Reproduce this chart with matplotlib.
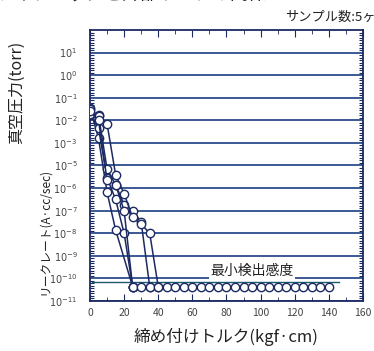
import matplotlib
matplotlib.use('Agg')
import matplotlib.pyplot as plt
from matplotlib.ticker import FixedLocator, MultipleLocator

plt.rcParams['font.family'] = ['Noto Sans CJK JP', 'DejaVu Sans']

# y values are decade exponents on the chart's stacked scale
# (torr: 10^1 .. 10^-3, leak rate: 10^-5 .. 10^-11)
BOTTOM = -10.37   # level of "not detected" points

s1_x = [0, 5, 10, 15, 25]
s1_y = [-1.45, -2.8, -6.18, -7.85, BOTTOM]
s2_x = [0, 5, 10, 15, 20, 25]
s2_y = [-1.75, -2.35, -5.55, -6.5, -8.0, BOTTOM]
s3_x = [0, 5, 10, 15, 20, 25, 30, 35]
s3_y = [-1.7, -1.77, -5.15, -5.85, -6.73, -7.0, -7.5, BOTTOM]
s4_x = [0, 5, 10, 15, 20, 25, 30, 35, 40]
s4_y = [-1.5, -1.8, -2.15, -5.4, -6.25, -7.3, -7.6, -8.0, BOTTOM]
s5_x = [0, 5, 10, 15, 20, 25]
s5_y = [-1.6, -2.0, -5.64, -5.85, -7.0, BOTTOM]
series = [(s1_x, s1_y), (s2_x, s2_y), (s3_x, s3_y), (s4_x, s4_y), (s5_x, s5_y)]

floor_x = list(range(25, 145, 5))
detect_level = -10.17
detect_x = [1, 146]

tick_exps = [1, 0, -1, -2, -3, -5, -6, -7, -8, -9, -10, -11]
x_ticks = list(range(0, 161, 20))


def to_pos(e):
    # the axis skips 10^-4: leak rate decades sit one step higher
    return e if e >= -3.5 else e + 1


navy = '#1c2a62'
gridc = '#2d4c8c'

fig = plt.figure(figsize=(3.74, 3.51), dpi=100)
ax = fig.add_axes([0.2406, 0.1425, 0.73, 0.772])

for e in tick_exps:
    ax.axhline(to_pos(e), color=gridc, lw=1.3, zorder=1)

ax.plot(detect_x, [to_pos(detect_level)] * 2, color='#1d5a6e', lw=1.0, zorder=2)

for xs, ys in series:
    ax.plot(xs, [to_pos(v) for v in ys], color=navy, lw=1.1, marker='o', ms=6,
            mfc='white', mec=navy, mew=1.0, zorder=3)
ax.plot(floor_x, [to_pos(BOTTOM)] * len(floor_x), ls='none', marker='o', ms=6,
        mfc='white', mec=navy, mew=1.0, zorder=3)

ax.text(95, to_pos(-10), '最小検出感度', fontsize=10, ha='center', va='bottom',
        color='#222222', zorder=4,
        bbox=dict(facecolor='white', edgecolor='none', pad=1))

ax.set_xlim(0, 160)
ax.set_ylim(-10, 2)
ax.set_xticks(x_ticks)
ax.xaxis.set_minor_locator(MultipleLocator(10))
ax.set_yticks([to_pos(e) for e in tick_exps])
ax.set_yticklabels(['$10^{%d}$' % e for e in tick_exps])
minor = []
for k in range(-10, 2):
    for m in range(2, 10):
        minor.append(k + (m - 1) / 9.0)
ax.yaxis.set_minor_locator(FixedLocator(minor))
ax.tick_params(axis='both', which='both', direction='in', top=True, right=True,
               color=navy, labelcolor='#444444')
ax.tick_params(axis='x', labelsize=7.5)
ax.tick_params(axis='y', labelsize=7)
ax.tick_params(axis='y', which='major', length=0, pad=9)
ax.tick_params(axis='y', which='minor', length=3, width=0.8)
ax.tick_params(axis='x', which='major', length=5, pad=5)
ax.tick_params(axis='x', which='minor', length=3)
for sp in ax.spines.values():
    sp.set_color(navy)
    sp.set_linewidth(1.3)

fig.text(0.604, 0.04, '締め付けトルク(kgf·cm)', fontsize=12, ha='center',
         va='center', color='#222222')
fig.text(0.043, 0.738, '真空圧力(torr)', fontsize=11.5, rotation=90,
         ha='center', va='center', color='#222222')
fig.text(0.118, 0.34, 'リークレート(A·cc/sec)', fontsize=8.5, rotation=90,
         ha='center', va='center', color='#222222')
fig.text(1.005, 0.95, 'サンプル数:5ヶ', fontsize=9.5, ha='right',
         va='center', color='#222222')
fig.text(-0.01, 1.015, 'ナイフエッジと外部リークの関係', fontsize=13,
         ha='left', va='center', color='#222222')

fig.savefig('out.png', dpi=100)
